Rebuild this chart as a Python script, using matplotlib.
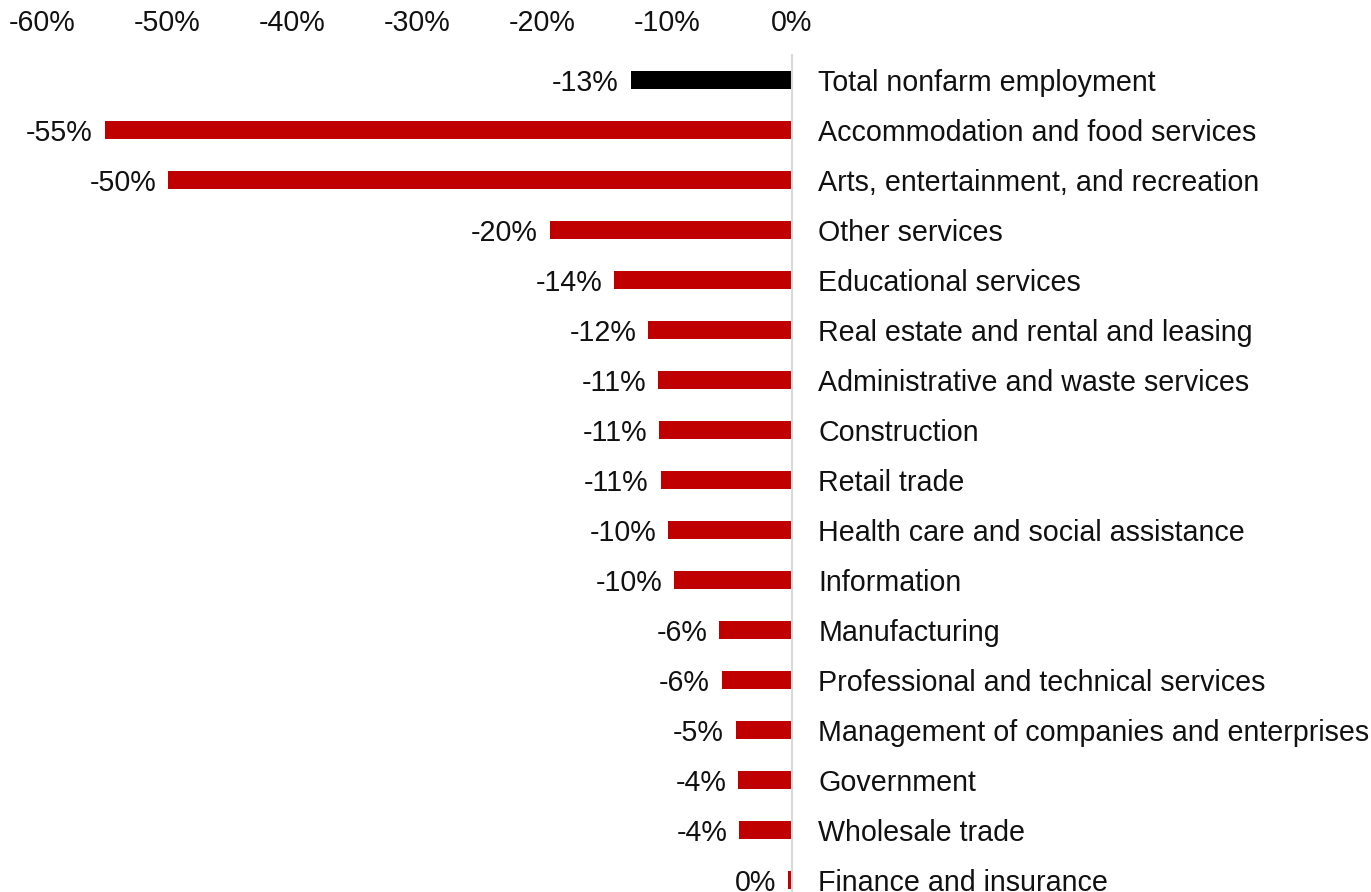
"""
plot.py
-------

Employment change by industry, horizontal bar chart.
"""

import matplotlib
matplotlib.use("Agg")
import matplotlib.pyplot as plt
from matplotlib.ticker import FuncFormatter


industries = [
    "Total nonfarm employment",
    "Accommodation and food services",
    "Arts, entertainment, and recreation",
    "Other services",
    "Educational services",
    "Real estate and rental and leasing",
    "Administrative and waste services",
    "Construction",
    "Retail trade",
    "Health care and social assistance",
    "Information",
    "Manufacturing",
    "Professional and technical services",
    "Management of companies and enterprises",
    "Government",
    "Wholesale trade",
    "Finance and insurance",
]

change_pct = [
    -12.9, -55.0, -49.9, -19.4, -14.2, -11.5, -10.7, -10.6, -10.5,
    -9.9, -9.4, -5.8, -5.6, -4.5, -4.3, -4.2, -0.3,
]

value_labels = [
    "-13%", "-55%", "-50%", "-20%", "-14%", "-12%", "-11%", "-11%", "-11%",
    "-10%", "-10%", "-6%", "-6%", "-5%", "-4%", "-4%", "0%",
]

x_ticks = [-60, -50, -40, -30, -20, -10, 0]

FONT_SIZE = 20.6
TEXT_COLOR = "#111111"


def main():

    plt.rcParams["font.family"] = ["Liberation Sans", "DejaVu Sans"]

    fig = plt.figure(figsize=(13.71, 8.92), dpi=100)

    # axes runs past the bottom edge so the last row is clipped like the original
    ax = fig.add_axes([42 / 1371, -13 / 892, 750 / 1371, 850 / 892])

    colors = ["#000000"] + ["#c00000"] * (len(industries) - 1)
    rows = list(range(len(industries)))

    ax.barh(rows, change_pct, height=0.36, color=colors)

    for row, value, label in zip(rows, change_pct, value_labels):
        ax.annotate(
            label,
            xy=(value, row),
            xytext=(-12, 0),
            textcoords="offset pixels",
            ha="right",
            va="center_baseline",
            fontsize=FONT_SIZE,
            color=TEXT_COLOR,
        )

    ax.set_xlim(-60, 0)
    ax.set_ylim(len(industries) - 0.5, -0.5)

    ax.xaxis.tick_top()
    ax.set_xticks(x_ticks)
    ax.xaxis.set_major_formatter(FuncFormatter(lambda v, _: f"{v:.0f}%"))
    ax.tick_params(axis="x", length=0, pad=13, labelsize=FONT_SIZE, colors=TEXT_COLOR)

    ax.yaxis.tick_right()
    ax.set_yticks(rows)
    ax.set_yticklabels(industries, va="center_baseline")
    ax.tick_params(axis="y", length=0, pad=19, labelsize=FONT_SIZE, colors=TEXT_COLOR)

    for side in ["left", "top", "bottom"]:
        ax.spines[side].set_visible(False)
    ax.spines["right"].set_color("#d9d9d9")
    ax.spines["right"].set_linewidth(1.5)

    fig.savefig("out.png", dpi=100)
    plt.close(fig)


if __name__ == "__main__":
    main()
